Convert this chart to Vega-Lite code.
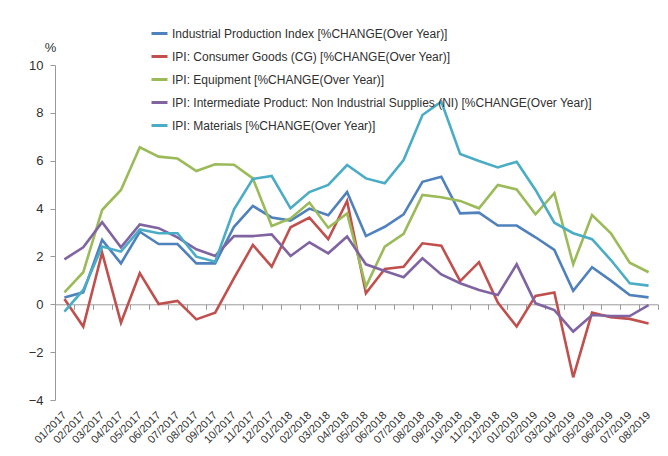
{
  "$schema": "https://vega.github.io/schema/vega-lite/v6.json",
  "width": 603,
  "height": 335,
  "autosize": {"type": "none"},
  "padding": {"left": 55, "top": 65, "right": 10, "bottom": 56},
  "background": "white",
  "config": {
    "font": "Liberation Sans",
    "view": {"stroke": null},
    "axis": {"grid": false, "labelColor": "#303030", "domainColor": "#9a9a9a", "tickColor": "#9a9a9a"}
  },
  "data": {
    "values": [
      {"month": "01/2017", "ipi": 0.28, "cg": 0.22, "eq": 0.5, "ni": 1.88, "mat": -0.31},
      {"month": "02/2017", "ipi": 0.5, "cg": -0.93, "eq": 1.34, "ni": 2.38, "mat": 0.6},
      {"month": "03/2017", "ipi": 2.69, "cg": 2.16, "eq": 3.94, "ni": 3.43, "mat": 2.41},
      {"month": "04/2017", "ipi": 1.71, "cg": -0.77, "eq": 4.78, "ni": 2.38, "mat": 2.2},
      {"month": "05/2017", "ipi": 3.03, "cg": 1.3, "eq": 6.56, "ni": 3.34, "mat": 3.13},
      {"month": "06/2017", "ipi": 2.52, "cg": 0.01, "eq": 6.17, "ni": 3.18, "mat": 2.97},
      {"month": "07/2017", "ipi": 2.52, "cg": 0.14, "eq": 6.09, "ni": 2.8, "mat": 2.97},
      {"month": "08/2017", "ipi": 1.71, "cg": -0.63, "eq": 5.57, "ni": 2.3, "mat": 1.99},
      {"month": "09/2017", "ipi": 1.71, "cg": -0.35, "eq": 5.85, "ni": 2.02, "mat": 1.78},
      {"month": "10/2017", "ipi": 3.24, "cg": 1.09, "eq": 5.83, "ni": 2.85, "mat": 3.97},
      {"month": "11/2017", "ipi": 4.11, "cg": 2.48, "eq": 5.26, "ni": 2.85, "mat": 5.24},
      {"month": "12/2017", "ipi": 3.63, "cg": 1.57, "eq": 3.27, "ni": 2.92, "mat": 5.36},
      {"month": "01/2018", "ipi": 3.5, "cg": 3.22, "eq": 3.59, "ni": 2.02, "mat": 4.01},
      {"month": "02/2018", "ipi": 4.0, "cg": 3.62, "eq": 4.25, "ni": 2.59, "mat": 4.69},
      {"month": "03/2018", "ipi": 3.72, "cg": 2.72, "eq": 3.2, "ni": 2.13, "mat": 4.99},
      {"month": "04/2018", "ipi": 4.69, "cg": 4.32, "eq": 3.8, "ni": 2.83, "mat": 5.82},
      {"month": "05/2018", "ipi": 2.85, "cg": 0.46, "eq": 0.74, "ni": 1.67, "mat": 5.26},
      {"month": "06/2018", "ipi": 3.24, "cg": 1.48, "eq": 2.41, "ni": 1.39, "mat": 5.06},
      {"month": "07/2018", "ipi": 3.76, "cg": 1.57, "eq": 2.94, "ni": 1.13, "mat": 6.03},
      {"month": "08/2018", "ipi": 5.12, "cg": 2.55, "eq": 4.57, "ni": 1.92, "mat": 7.91},
      {"month": "09/2018", "ipi": 5.33, "cg": 2.45, "eq": 4.47, "ni": 1.25, "mat": 8.47},
      {"month": "10/2018", "ipi": 3.8, "cg": 0.97, "eq": 4.32, "ni": 0.88, "mat": 6.28},
      {"month": "11/2018", "ipi": 3.83, "cg": 1.76, "eq": 4.01, "ni": 0.6, "mat": 5.99},
      {"month": "12/2018", "ipi": 3.29, "cg": 0.07, "eq": 4.99, "ni": 0.39, "mat": 5.72},
      {"month": "01/2019", "ipi": 3.29, "cg": -0.93, "eq": 4.8, "ni": 1.67, "mat": 5.96},
      {"month": "02/2019", "ipi": 2.8, "cg": 0.35, "eq": 3.76, "ni": 0.04, "mat": 4.78},
      {"month": "03/2019", "ipi": 2.27, "cg": 0.49, "eq": 4.64, "ni": -0.24, "mat": 3.41},
      {"month": "04/2019", "ipi": 0.56, "cg": -3.05, "eq": 1.67, "ni": -1.14, "mat": 2.97},
      {"month": "05/2019", "ipi": 1.55, "cg": -0.35, "eq": 3.73, "ni": -0.45, "mat": 2.72},
      {"month": "06/2019", "ipi": 0.99, "cg": -0.54, "eq": 2.97, "ni": -0.49, "mat": 1.85},
      {"month": "07/2019", "ipi": 0.39, "cg": -0.61, "eq": 1.74, "ni": -0.49, "mat": 0.88},
      {"month": "08/2019", "ipi": 0.29, "cg": -0.8, "eq": 1.34, "ni": -0.03, "mat": 0.78}
    ]
  },
  "transform": [
    {"fold": ["ipi", "cg", "eq", "ni", "mat"], "as": ["series", "value"]}
  ],
  "mark": {"type": "line", "strokeWidth": 2.6, "strokeJoin": "miter"},
  "encoding": {
    "x": {
      "field": "month",
      "type": "ordinal",
      "sort": null,
      "bandPosition": 0.5,
      "scale": {"type": "band", "paddingInner": 0, "paddingOuter": 0},
      "axis": {
        "title": null,
        "orient": "bottom",
        "offset": -95.7,
        "tickBand": "extent",
        "tickSize": 5,
        "labelAngle": -45,
        "labelAlign": "right",
        "labelBaseline": "middle",
        "labelPadding": 104,
        "labelFontSize": 11,
        "labelOverlap": false
      }
    },
    "y": {
      "field": "value",
      "type": "quantitative",
      "scale": {"domain": [-4, 10], "nice": false, "zero": false},
      "axis": {
        "values": [-4, -2, 0, 2, 4, 6, 8, 10],
        "tickSize": 5,
        "labelPadding": 7,
        "labelFontSize": 13,
        "title": "%",
        "titleAngle": 0,
        "titleAlign": "center",
        "titleBaseline": "middle",
        "titleX": -5,
        "titleY": -18,
        "titleFontSize": 13,
        "titleFontWeight": "normal",
        "titleColor": "#303030"
      }
    },
    "color": {
      "field": "series",
      "type": "nominal",
      "scale": {
        "domain": ["ipi", "cg", "eq", "ni", "mat"],
        "range": ["#4F81BD", "#C0504D", "#9BBB59", "#8064A2", "#4BACC6"]
      },
      "legend": {
        "title": null,
        "orient": "none",
        "legendX": 95,
        "legendY": -41,
        "symbolType": "stroke",
        "symbolSize": 256,
        "symbolStrokeWidth": 3,
        "labelFontSize": 12,
        "labelColor": "#303030",
        "labelOffset": 3,
        "rowPadding": 7,
        "padding": 0,
        "labelLimit": 500,
        "labelExpr": "datum.label == 'ipi' ? 'Industrial Production Index [%CHANGE(Over Year)]' : datum.label == 'cg' ? 'IPI: Consumer Goods (CG) [%CHANGE(Over Year)]' : datum.label == 'eq' ? 'IPI: Equipment [%CHANGE(Over Year)]' : datum.label == 'ni' ? 'IPI: Intermediate Product: Non Industrial Supplies (NI) [%CHANGE(Over Year)]' : 'IPI: Materials [%CHANGE(Over Year)]'"
      }
    }
  }
}
